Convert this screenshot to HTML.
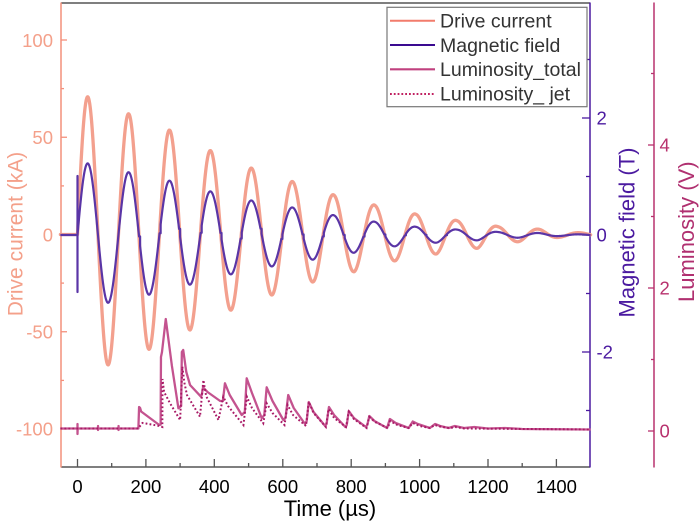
<!DOCTYPE html>
<html><head><meta charset="utf-8">
<style>
html,body{margin:0;padding:0;background:#fff;}
svg{display:block;font-family:"Liberation Sans",Arial,sans-serif;}
</style></head><body>
<svg id="c" width="700" height="524" viewBox="0 0 700 524" xmlns="http://www.w3.org/2000/svg">
<rect width="700" height="524" fill="#fff"/>
<!-- frame / axes -->
<line x1="61" y1="3" x2="590" y2="3" stroke="#555" stroke-width="1.5"/>
<line x1="61" y1="467" x2="590" y2="467" stroke="#555" stroke-width="1.5"/>
<line x1="61" y1="2.5" x2="61" y2="467.5" stroke="#f4907c" stroke-width="1.5"/>
<line x1="590" y1="2.5" x2="590" y2="467.5" stroke="#4b1aa0" stroke-width="1.5"/>
<line x1="654" y1="2.5" x2="654" y2="467.5" stroke="#b8326e" stroke-width="1.5"/>

<!-- x ticks -->
<g stroke="#555" stroke-width="1.3">
<line x1="77.5" y1="459" x2="77.5" y2="467"/>
<line x1="145.9" y1="459" x2="145.9" y2="467"/>
<line x1="214.3" y1="459" x2="214.3" y2="467"/>
<line x1="282.8" y1="459" x2="282.8" y2="467"/>
<line x1="351.2" y1="459" x2="351.2" y2="467"/>
<line x1="419.6" y1="459" x2="419.6" y2="467"/>
<line x1="488.0" y1="459" x2="488.0" y2="467"/>
<line x1="556.4" y1="459" x2="556.4" y2="467"/>
<line x1="111.7" y1="463" x2="111.7" y2="467"/>
<line x1="180.1" y1="463" x2="180.1" y2="467"/>
<line x1="248.6" y1="463" x2="248.6" y2="467"/>
<line x1="317.0" y1="463" x2="317.0" y2="467"/>
<line x1="385.4" y1="463" x2="385.4" y2="467"/>
<line x1="453.8" y1="463" x2="453.8" y2="467"/>
<line x1="522.2" y1="463" x2="522.2" y2="467"/>
</g>
<!-- left ticks -->
<g stroke="#f4907c" stroke-width="1.3">
<line x1="61" y1="40" x2="67" y2="40"/>
<line x1="61" y1="137.25" x2="67" y2="137.25"/>
<line x1="61" y1="234.5" x2="67" y2="234.5"/>
<line x1="61" y1="331.75" x2="67" y2="331.75"/>
<line x1="61" y1="429" x2="67" y2="429"/>
<line x1="61" y1="88.6" x2="64" y2="88.6"/>
<line x1="61" y1="185.9" x2="64" y2="185.9"/>
<line x1="61" y1="283.1" x2="64" y2="283.1"/>
<line x1="61" y1="380.4" x2="64" y2="380.4"/>
</g>
<!-- magnetic ticks -->
<g stroke="#4b1aa0" stroke-width="1.3">
<line x1="582" y1="118" x2="590" y2="118"/>
<line x1="582" y1="235" x2="590" y2="235"/>
<line x1="582" y1="352" x2="590" y2="352"/>
<line x1="586" y1="59.5" x2="590" y2="59.5"/>
<line x1="586" y1="176.5" x2="590" y2="176.5"/>
<line x1="586" y1="293.5" x2="590" y2="293.5"/>
<line x1="586" y1="410.5" x2="590" y2="410.5"/>
</g>
<!-- luminosity ticks -->
<g stroke="#b8326e" stroke-width="1.3">
<line x1="648" y1="145" x2="654" y2="145"/>
<line x1="648" y1="288" x2="654" y2="288"/>
<line x1="648" y1="431" x2="654" y2="431"/>
<line x1="651" y1="73.5" x2="654" y2="73.5"/>
<line x1="651" y1="216.5" x2="654" y2="216.5"/>
<line x1="651" y1="359.5" x2="654" y2="359.5"/>
</g>

<!-- tick labels -->
<g font-size="18.5" fill="#f4a08a" text-anchor="end">
<text x="53" y="46.8">100</text>
<text x="53" y="144">50</text>
<text x="53" y="241.3">0</text>
<text x="53" y="338.5">-50</text>
<text x="53" y="435.7">-100</text>
</g>
<g font-size="18.5" fill="#000" text-anchor="middle">
<text x="77.5" y="493">0</text>
<text x="145.9" y="493">200</text>
<text x="214.3" y="493">400</text>
<text x="282.8" y="493">600</text>
<text x="351.2" y="493">800</text>
<text x="419.6" y="493">1000</text>
<text x="488.0" y="493">1200</text>
<text x="556.4" y="493">1400</text>
</g>
<g font-size="18.5" fill="#4b1aa0">
<text x="596.5" y="124.7">2</text>
<text x="596.5" y="241.7">0</text>
<text x="596.5" y="358.7">-2</text>
</g>
<g font-size="18.5" fill="#b8326e">
<text x="659.5" y="151.7">4</text>
<text x="659.5" y="294.7">2</text>
<text x="659.5" y="437.7">0</text>
</g>

<!-- axis titles -->
<text transform="translate(22.5,234) rotate(-90)" font-size="21" fill="#f4a08a" text-anchor="middle">Drive current (kA)</text>
<text transform="translate(634.5,232.5) rotate(-90)" font-size="22" fill="#4b1aa0" text-anchor="middle">Magnetic field (T)</text>
<text transform="translate(694,231.7) rotate(-90)" font-size="22" fill="#b03070" text-anchor="middle">Luminosity (V)</text>
<text x="330" y="516" font-size="22" fill="#000" text-anchor="middle">Time (µs)</text>

<!-- data -->
<path id="cur" fill="none" stroke="#f3a08e" stroke-width="3.3" stroke-linejoin="round" stroke-linecap="round"/>
<path id="mag" fill="none" stroke="#5a35a6" stroke-width="2.2" stroke-linejoin="round"/>
<path id="lt" fill="none" stroke="#c4538f" stroke-width="2.3" stroke-linejoin="round"/>
<path id="lj" fill="none" stroke="#a81a66" stroke-width="2" stroke-dasharray="1.8 2.2"/>

<!-- legend -->
<rect x="387" y="7.3" width="200" height="99.4" fill="#fff" stroke="#777" stroke-width="1.2"/>
<line x1="390" y1="20.7" x2="435" y2="20.7" stroke="#f27c6c" stroke-width="2"/>
<line x1="390" y1="45" x2="435" y2="45" stroke="#3a0a90" stroke-width="2"/>
<line x1="390" y1="69.3" x2="435" y2="69.3" stroke="#c0407f" stroke-width="2.2"/>
<line x1="390" y1="94" x2="435" y2="94" stroke="#c02060" stroke-width="2" stroke-dasharray="1.8 2"/>
<g font-size="19.5" fill="#333">
<text x="440" y="27.5">Drive current</text>
<text x="440" y="51.8">Magnetic field</text>
<text x="440" y="76.1">Luminosity_total</text>
<text x="440" y="100.6">Luminosity_ jet</text>
</g>
</svg>
<script>
(function(){
const X=t=>77.5+t*0.3421;
const ampT=[[0,72],[30,70.8],[90,67],[150,62],[210,59],[270,53.6],[330,49],[390,43],[450,38.8],[510,34],[570,31],[630,27.1],[690,24.3],[750,20.3],[810,19.1],[870,15],[930,13.5],[990,10.4],[1050,10],[1110,7.1],[1170,7.1],[1230,4],[1290,3.7],[1350,2.7],[1410,1.4],[1470,0.9],[1500,0.8]];
function interp(tab,t){if(t<=tab[0][0])return tab[0][1];for(let i=1;i<tab.length;i++){if(t<=tab[i][0]){const a=tab[i-1],b=tab[i];return a[1]+(b[1]-a[1])*(t-a[0])/(b[0]-a[0]);}}return tab[tab.length-1][1];}
const P=119.7;
const I=t=>t<0?0:interp(ampT,t)*Math.sin(2*Math.PI*t/P);
const f=v=>v.toFixed(2);
let d="M"+f(X(-50))+","+f(234.5);
for(let t=0;t<=1500;t+=1){d+="L"+f(X(t))+","+f(234.5-I(t)*1.945);}
document.getElementById("cur").setAttribute("d",d);
const rT=[[0,0.52],[700,0.52],[1000,0.4],[1500,0.36]];
const B=t=>235-interp(rT,t)*I(t)*1.945;
const G=[183,243,300,363,421,480,538,599,661,720,781,839,900,960,1020,1080];
const H=3;
let m="M"+f(X(-50))+",235L"+f(X(0))+",235L"+f(X(0))+",176L"+f(X(0))+",292L"+f(X(0))+",235";
for(let t=1;t<=1500;t+=1){
  let g=G.find(g=>t>g-H&&t<=g);
  if(g!==undefined){
    const hv=B(g-H);
    if(t===g){m+="L"+f(X(t))+","+f(hv)+"L"+f(X(t))+","+f(B(t));}
    else m+="L"+f(X(t))+","+f(hv);
  } else m+="L"+f(X(t))+","+f(B(t));
}
document.getElementById("mag").setAttribute("d",m);
const tot=[[-50,428.5],[-1,428.5],[0,428.5],[0,424],[0,434],[0.5,428.5],[60,428.5],[60,426],[60,430],[60.5,428.5],[120,428.5],[120,426],[120,430],[120.5,428.5],
[178,428.5],[180,407],[183,408],[186,411.5],[239,425],[243,424.5],[244,357],[247,352],[258,319],[276,366],[295,408.3],[303,406],[305,352],[309,350],[318,372],[329,385],[361,396.7],[363,395],[367,387.3],[380,392],[417,401],[425,401],[431,383.3],[445,395],[480,415],[489,412],[494.6,378.3],[510,393],[538.6,418.3],[546,415],[553,387.3],[570,401],[601.7,420],[608,418],[616,395],[632,408],[665,424],[670,421],[676,402],[690,412],[724,426],[728,424],[735,407],[750,415],[783,427],[787,425],[793,411],[808,418],[843,427],[847,425],[853,416],[868,421],[905,428],[913,419],[930,423],[968,428],[980,421.5],[995,424],[1030,428],[1045,424],[1060,426],[1085,428],[1103,426],[1130,428],[1160,427],[1200,428.5],[1250,428],[1300,429],[1500,429.5]];
const jet=[[-50,428.5],[178,428.5],[183,426],[190,423],[200,423.5],[240,426],[248,427],[248.5,379],[253,392],[261,397],[270,403],[300,420],[306.5,366.7],[312,382],[320,395],[358,416.7],[368,380],[376,396],[412,420],[426,396.7],[440,406],[485,425],[495,396.7],[510,408],[543,423.3],[553,403.3],[570,413],[605,425],[614,405],[630,415],[668,426],[676,401.7],[690,413],[726,427],[734,409],[750,418],[785,427],[793,411.7],[808,419],[845,428],[853,417],[870,422],[907,428],[914,421],[935,425],[968,428],[980,423],[1000,426],[1030,428],[1045,425],[1065,427],[1090,428],[1105,427],[1130,428.5],[1500,429.5]];
const toP=a=>a.map((p,i)=>(i?"L":"M")+f(X(p[0]))+","+f(p[1])).join("");
document.getElementById("lt").setAttribute("d",toP(tot));
document.getElementById("lj").setAttribute("d",toP(jet));
})();
</script>
</body></html>
